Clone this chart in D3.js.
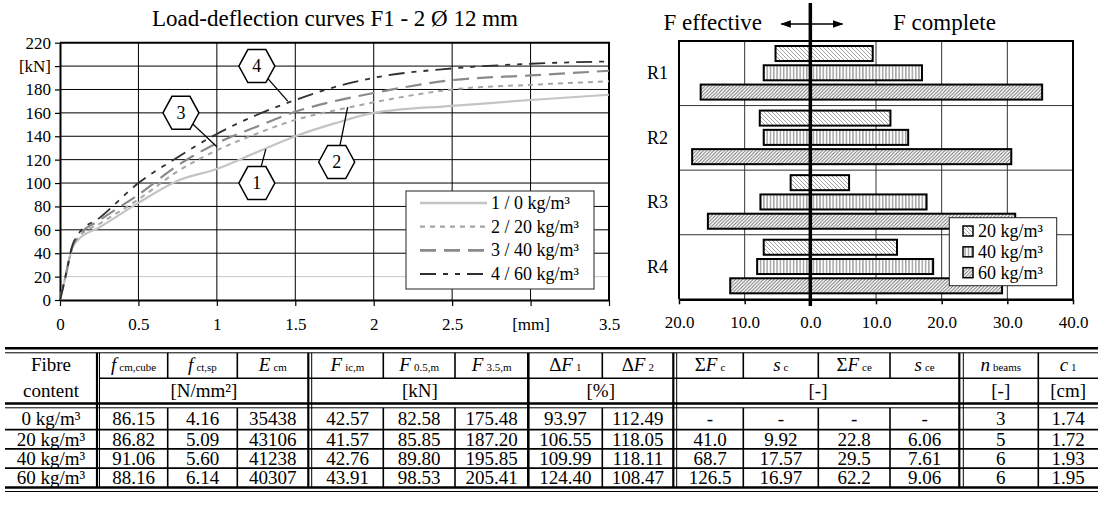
<!DOCTYPE html>
<html>
<head>
<meta charset="utf-8">
<script src="https://cdn.jsdelivr.net/npm/d3@7"></script>
<style>
body { margin: 0; background: #fff; }
svg text { font-family: "Liberation Serif", "Times New Roman", serif; fill: #000; }
</style>
</head>
<body>
<script>
// ---------- load-deflection curves (left chart) ----------
var deflection = [0, 0.03, 0.08, 0.12, 0.25, 0.5, 0.75, 1.0, 1.25, 1.5, 1.75, 2.0, 2.5, 3.0, 3.5];
var load0 = [0, 17, 45, 52, 62, 83, 102, 112, 126, 140, 151, 160, 166, 171, 175.5];
var load20 = [0, 17, 46, 54, 65, 86, 110, 128, 142, 154, 162, 169, 180, 184, 187];
var load40 = [0, 17, 46, 55, 68, 90, 115, 134, 148, 161, 170, 177, 188, 192, 196];
var load60 = [0, 17, 47, 57, 70, 100, 122, 142, 158, 171, 182, 190, 198, 202, 204];
var seriesNames = ["1 / 0 kg/m³", "2 / 20 kg/m³", "3 / 40 kg/m³", "4 / 60 kg/m³"];
var loadTicks = [0, 20, 40, 60, 80, 100, 120, 140, 160, 180, 200, 220];
var deflTicks = [0, 0.5, 1, 1.5, 2, 2.5, 3, 3.5];

// callout hexagons: label, position and the point the leader goes to (data units)
var calloutLabels = ["1", "2", "3", "4"];
var calloutAt = [[1.255, 100], [1.764, 118], [0.771, 160], [1.255, 200]];
var calloutTo = [[1.312, 129], [1.834, 165], [1.0, 131], [1.452, 170]];

// ---------- crack forces (right chart) ----------
var rings = ["R1", "R2", "R3", "R4"];
var doses = ["20 kg/m³", "40 kg/m³", "60 kg/m³"];
var fEffective20 = [5.3, 7.7, 3.0, 7.1];
var fEffective40 = [7.1, 7.1, 7.6, 8.1];
var fEffective60 = [16.7, 18.0, 15.6, 12.2];
var fComplete20 = [9.5, 12.2, 5.9, 13.2];
var fComplete40 = [17.0, 14.9, 17.7, 18.7];
var fComplete60 = [35.3, 30.6, 31.2, 29.2];
var forceTicks = [-20, -10, 0, 10, 20, 30, 40];

// ---------- table ----------
var fibreContent = ["0 kg/m³", "20 kg/m³", "40 kg/m³", "60 kg/m³"];
var fcmCube = ["86.15", "86.82", "91.06", "88.16"];
var fctSp = ["4.16", "5.09", "5.60", "6.14"];
var eCm = ["35438", "43106", "41238", "40307"];
var fIcM = ["42.57", "41.57", "42.76", "43.91"];
var f05M = ["82.58", "85.85", "89.80", "98.53"];
var f35M = ["175.48", "187.20", "195.85", "205.41"];
var deltaF1 = ["93.97", "106.55", "109.99", "124.40"];
var deltaF2 = ["112.49", "118.05", "118.11", "108.47"];
var sumFc = ["-", "41.0", "68.7", "126.5"];
var sC = ["-", "9.92", "17.57", "16.97"];
var sumFce = ["-", "22.8", "29.5", "62.2"];
var sCe = ["-", "6.06", "7.61", "9.06"];
var nBeams = ["3", "5", "6", "6"];
var c1 = ["1.74", "1.72", "1.93", "1.95"];
var headPre = ["", "", "", "", "", "", "Δ", "Δ", "Σ", "", "Σ", "", "", ""];
var headMain = ["f", "f", "E", "F", "F", "F", "F", "F", "F", "s", "F", "s", "n", "c"];
var headSub = ["cm,cube", "ct,sp", "cm", "ic,m", "0.5,m", "3.5,m", "1", "2", "c", "c", "ce", "ce", "beams", "1"];
var unitLabels = ["[N/mm²]", "[kN]", "[%]", "[-]", "[-]", "[cm]"];

var svg = d3.select("body").append("svg")
  .attr("width", 1099)
  .attr("height", 513)
  .attr("font-family", "Liberation Serif");

// =================== left chart ===================
var x = d3.scaleLinear().domain([0, 3.5]).range([60, 609]);
var y = d3.scaleLinear().domain([0, 220]).range([300, 42.7]);

svg.append("text")
  .attr("x", 335).attr("y", 26)
  .attr("text-anchor", "middle")
  .style("font-size", "23px")
  .text("Load-deflection curves F1 - 2 Ø 12 mm");

var left = svg.append("g");

// grid
left.selectAll("line.hgrid")
  .data(loadTicks.slice(1, -1))
  .enter().append("line")
  .attr("x1", x(0)).attr("x2", x(3.5))
  .attr("y1", d => y(d)).attr("y2", d => y(d))
  .attr("stroke", d => d === 20 ? "#c8c8c8" : "#000")
  .attr("stroke-width", 1);
left.selectAll("line.vgrid")
  .data(deflTicks.slice(1, -1))
  .enter().append("line")
  .attr("x1", d => x(d)).attr("x2", d => x(d))
  .attr("y1", y(0)).attr("y2", y(220))
  .attr("stroke", "#000")
  .attr("stroke-width", 1);
// top and right frame
left.append("path")
  .attr("d", "M" + x(0) + "," + y(220) + "H" + x(3.5) + "V" + y(0))
  .attr("fill", "none").attr("stroke", "#000").attr("stroke-width", 2);

// axes
var yAxis = left.append("g")
  .attr("transform", "translate(" + x(0) + ",0)")
  .call(d3.axisLeft(y).tickValues(loadTicks).tickSize(5).tickSizeOuter(0).tickPadding(4)
    .tickFormat(d => d === 200 ? "[kN]" : d));
var xAxis = left.append("g")
  .attr("transform", "translate(0," + y(0) + ")")
  .call(d3.axisBottom(x).tickValues(deflTicks).tickSize(6).tickSizeOuter(0).tickPadding(12)
    .tickFormat(d => d === 3 ? "[mm]" : d));
[yAxis, xAxis].forEach(function(a) {
  a.attr("font-family", "Liberation Serif");
  a.select(".domain").attr("stroke", "#000").attr("stroke-width", 2);
  a.selectAll(".tick line").attr("stroke", "#000").attr("stroke-width", 1.2);
  a.selectAll("text").style("font-size", "17px").attr("fill", "#000");
});

// curves
var loads = [load0, load20, load40, load60];
var colors = ["#c4c4c4", "#a6a6a6", "#8a8a8a", "#303030"];
var widths = [2.2, 2, 2.2, 1.8];
var dashes = [null, "5,5", "16,8", "16,7,5,7,5,7"];

var line = d3.line()
  .x((d, i) => x(deflection[i]))
  .y(d => y(d))
  .curve(d3.curveMonotoneX);

left.selectAll("path.curve")
  .data(loads)
  .enter().append("path")
  .attr("class", "curve")
  .attr("d", d => line(d))
  .attr("fill", "none")
  .attr("stroke", (d, i) => colors[i])
  .attr("stroke-width", (d, i) => widths[i])
  .attr("stroke-dasharray", (d, i) => dashes[i]);

// callouts
var hexPoints = [[-18, 0], [-9, -16.5], [9, -16.5], [18, 0], [9, 16.5], [-9, 16.5]];
var hexPath = d3.line()(hexPoints) + "Z";
var callouts = left.selectAll("g.callout")
  .data(calloutLabels)
  .enter().append("g");
callouts.append("line")
  .attr("x1", (d, i) => x(calloutAt[i][0])).attr("y1", (d, i) => y(calloutAt[i][1]))
  .attr("x2", (d, i) => x(calloutTo[i][0])).attr("y2", (d, i) => y(calloutTo[i][1]))
  .attr("stroke", "#000").attr("stroke-width", 1.3);
callouts.append("path")
  .attr("transform", (d, i) => "translate(" + x(calloutAt[i][0]) + "," + y(calloutAt[i][1]) + ")")
  .attr("d", hexPath)
  .attr("fill", "#fff").attr("stroke", "#000").attr("stroke-width", 1.5);
callouts.append("text")
  .attr("x", (d, i) => x(calloutAt[i][0])).attr("y", (d, i) => y(calloutAt[i][1]) + 6)
  .attr("text-anchor", "middle")
  .style("font-size", "18px")
  .text(d => d);

// legend
var legend = left.append("g");
legend.append("rect")
  .attr("x", 406).attr("y", 191).attr("width", 188).attr("height", 98)
  .attr("fill", "#fff").attr("stroke", "#222").attr("stroke-width", 1);
var legY = d3.scalePoint().domain(seriesNames).range([203, 274]);
legend.selectAll("line.leg")
  .data(seriesNames)
  .enter().append("line")
  .attr("x1", 420).attr("x2", 487)
  .attr("y1", d => legY(d)).attr("y2", d => legY(d))
  .attr("stroke", (d, i) => colors[i])
  .attr("stroke-width", (d, i) => widths[i] + 0.4)
  .attr("stroke-dasharray", (d, i) => dashes[i]);
legend.selectAll("text")
  .data(seriesNames)
  .enter().append("text")
  .attr("x", 491).attr("y", d => legY(d) + 6)
  .style("font-size", "18px")
  .text(d => d);

// =================== right chart ===================
var xr = d3.scaleLinear().domain([-20, 40]).range([679, 1073]);
var yr = d3.scaleBand().domain(rings).range([41, 299.3]);
var yd = d3.scaleBand().domain(doses).range([5, 58.6]).paddingInner(0.22);

var defs = svg.append("defs");
var p20 = defs.append("pattern").attr("id", "p20").attr("patternUnits", "userSpaceOnUse")
  .attr("width", 4).attr("height", 4);
p20.append("rect").attr("width", 4).attr("height", 4).attr("fill", "#fff");
p20.append("path").attr("d", "M-1,-1L5,5M-1,3L1,5M3,-1L5,1").attr("stroke", "#9a9a9a").attr("stroke-width", 0.9);
var p40 = defs.append("pattern").attr("id", "p40").attr("patternUnits", "userSpaceOnUse")
  .attr("width", 3.3).attr("height", 4);
p40.append("rect").attr("width", 3.3).attr("height", 4).attr("fill", "#fff");
p40.append("path").attr("d", "M1.6,0V4").attr("stroke", "#6a6a6a").attr("stroke-width", 0.9);
var p60 = defs.append("pattern").attr("id", "p60").attr("patternUnits", "userSpaceOnUse")
  .attr("width", 3.5).attr("height", 3.5);
p60.append("rect").attr("width", 3.5).attr("height", 3.5).attr("fill", "#fff");
p60.append("path").attr("d", "M-1,4.5L4.5,-1M-1,1L1,-1M2.5,4.5L4.5,2.5").attr("stroke", "#6a6a6a").attr("stroke-width", 0.9);
var patterns = ["url(#p20)", "url(#p40)", "url(#p60)"];

defs.append("marker").attr("id", "arrow")
  .attr("viewBox", "0 0 10 10").attr("refX", 9).attr("refY", 5)
  .attr("markerWidth", 7).attr("markerHeight", 7)
  .attr("orient", "auto-start-reverse")
  .append("path").attr("d", "M0,1.5L10,5L0,8.5Z").attr("fill", "#000");

var right = svg.append("g");

// grid
right.selectAll("line.vg")
  .data(forceTicks.filter(d => d !== 0 && d !== -20 && d !== 40))
  .enter().append("line")
  .attr("x1", d => xr(d)).attr("x2", d => xr(d))
  .attr("y1", yr.range()[0]).attr("y2", yr.range()[1])
  .attr("stroke", "#333").attr("stroke-width", 1);
right.selectAll("line.hg")
  .data(rings.slice(1))
  .enter().append("line")
  .attr("x1", xr(-20)).attr("x2", xr(40))
  .attr("y1", d => yr(d)).attr("y2", d => yr(d))
  .attr("stroke", "#333").attr("stroke-width", 1);
right.append("path")
  .attr("d", "M" + xr(-20) + "," + yr.range()[1] + "V" + yr.range()[0] + "H" + xr(40) + "V" + yr.range()[1])
  .attr("fill", "none").attr("stroke", "#000").attr("stroke-width", 2);

var rAxis = right.append("g")
  .attr("transform", "translate(0," + yr.range()[1] + ")")
  .call(d3.axisBottom(xr).tickValues(forceTicks).tickSize(5).tickSizeOuter(0).tickPadding(12)
    .tickFormat(d => Math.abs(d).toFixed(1)));
rAxis.attr("font-family", "Liberation Serif");
rAxis.select(".domain").attr("stroke", "#000").attr("stroke-width", 2.5);
rAxis.selectAll(".tick line").attr("stroke", "#000").attr("stroke-width", 1.5);
rAxis.selectAll("text").style("font-size", "17px").attr("fill", "#000");

// bars
var effective = [fEffective20, fEffective40, fEffective60];
var complete = [fComplete20, fComplete40, fComplete60];
doses.forEach(function(dose, k) {
  right.selectAll("rect.b" + k)
    .data(rings)
    .enter().append("rect")
    .attr("x", (r, i) => xr(-effective[k][i]))
    .attr("width", (r, i) => xr(complete[k][i]) - xr(-effective[k][i]))
    .attr("y", r => yr(r) + yd(dose))
    .attr("height", yd.bandwidth())
    .attr("fill", patterns[k])
    .attr("stroke", "#000").attr("stroke-width", 2);
});

// ring labels
right.selectAll("text.ring")
  .data(rings)
  .enter().append("text")
  .attr("x", 647).attr("y", r => yr(r) + yr.bandwidth() / 2 + 6)
  .style("font-size", "18px")
  .text(r => r);

// centre line and arrow header
right.append("line")
  .attr("x1", xr(0)).attr("x2", xr(0)).attr("y1", 3).attr("y2", 306)
  .attr("stroke", "#000").attr("stroke-width", 3.5);
right.append("line")
  .attr("x1", xr(0) - 29).attr("x2", xr(0) + 32).attr("y1", 24).attr("y2", 24)
  .attr("stroke", "#000").attr("stroke-width", 1.5)
  .attr("marker-start", "url(#arrow)").attr("marker-end", "url(#arrow)");
right.append("text")
  .attr("x", 762).attr("y", 30).attr("text-anchor", "end")
  .style("font-size", "23px").text("F effective");
right.append("text")
  .attr("x", 893).attr("y", 30)
  .style("font-size", "23px").text("F complete");

// legend
var rleg = right.append("g");
rleg.append("rect")
  .attr("x", 949.3).attr("y", 217.7).attr("width", 107.4).attr("height", 68)
  .attr("fill", "#fff").attr("stroke", "#222").attr("stroke-width", 1);
var rlegY = d3.scalePoint().domain(doses).range([231, 272.7]);
rleg.selectAll("rect.sw")
  .data(doses)
  .enter().append("rect")
  .attr("x", 963).attr("y", d => rlegY(d) - 5)
  .attr("width", 10).attr("height", 10)
  .attr("fill", (d, i) => patterns[i])
  .attr("stroke", "#000").attr("stroke-width", 1.5);
rleg.selectAll("text")
  .data(doses)
  .enter().append("text")
  .attr("x", 978).attr("y", d => rlegY(d) + 6)
  .style("font-size", "18px")
  .text(d => d);

// =================== table ===================
var cols = [[5, 97], [99.5, 167.7], [167.7, 237.3], [237.3, 308.3], [311.7, 383.3], [383.3, 455],
  [455, 528.3], [528.3, 602.3], [602.3, 673.3], [676.7, 743.3], [743.3, 818.3], [818.3, 890],
  [890, 959.3], [963.3, 1038.3], [1038.3, 1098]];
var unitSpans = [[1, 3], [4, 6], [7, 8], [9, 12], [13, 13], [14, 14]];
var tableCols = [fibreContent, fcmCube, fctSp, eCm, fIcM, f05M, f35M, deltaF1, deltaF2, sumFc, sC, sumFce, sCe, nBeams, c1];
var rowLines = [348.3, 378.3, 407.8, 429.6, 448.9, 468.2, 487.5];
var table = svg.append("g");
var cx = c => (cols[c][0] + cols[c][1]) / 2;

// horizontal rules
table.append("line").attr("x1", 5).attr("x2", 1098).attr("y1", 348.3).attr("y2", 348.3).attr("stroke", "#000").attr("stroke-width", 2.5);
table.append("line").attr("x1", 5).attr("x2", 1098).attr("y1", 352.8).attr("y2", 352.8).attr("stroke", "#000").attr("stroke-width", 1);
table.append("line").attr("x1", 99.5).attr("x2", 1098).attr("y1", 378.3).attr("y2", 378.3).attr("stroke", "#000").attr("stroke-width", 1.5);
table.append("line").attr("x1", 5).attr("x2", 1098).attr("y1", 403.5).attr("y2", 403.5).attr("stroke", "#000").attr("stroke-width", 2.5);
table.append("line").attr("x1", 5).attr("x2", 1098).attr("y1", 407.8).attr("y2", 407.8).attr("stroke", "#000").attr("stroke-width", 1);
table.selectAll("line.row")
  .data(rowLines.slice(3, 6))
  .enter().append("line")
  .attr("x1", 5).attr("x2", 1098).attr("y1", d => d).attr("y2", d => d)
  .attr("stroke", "#000").attr("stroke-width", 1.8);
table.append("line").attr("x1", 5).attr("x2", 1098).attr("y1", 487.5).attr("y2", 487.5).attr("stroke", "#000").attr("stroke-width", 2.5);
table.append("line").attr("x1", 5).attr("x2", 1098).attr("y1", 491.5).attr("y2", 491.5).attr("stroke", "#000").attr("stroke-width", 1);

// vertical rules: boundary after column i
var boundaryType = ["double", "single", "single", "double", "single", "single", "thick", "single", "double", "single", "single", "single", "double", "single"];
var fullHeight = [true, false, false, true, false, false, true, false, true, false, false, false, true, true];
boundaryType.forEach(function(t, i) {
  var segs = fullHeight[i] ? [[352.8, 487.5]] : [[352.8, 378.3], [407.8, 487.5]];
  var xs = t === "double" ? [[cols[i][1], 2.2], [cols[i + 1][0], 1]] :
    t === "thick" ? [[cols[i][1], 2.6]] : [[cols[i][1], 1.6]];
  xs.forEach(function(p) {
    segs.forEach(function(s) {
      table.append("line").attr("x1", p[0]).attr("x2", p[0]).attr("y1", s[0]).attr("y2", s[1])
        .attr("stroke", "#000").attr("stroke-width", p[1]);
    });
  });
});

// header text
table.append("text").attr("x", cx(0)).attr("y", 371).attr("text-anchor", "middle").style("font-size", "19px").text("Fibre");
table.append("text").attr("x", cx(0)).attr("y", 397).attr("text-anchor", "middle").style("font-size", "19px").text("content");
headMain.forEach(function(m, i) {
  var t = table.append("text").attr("x", cx(i + 1)).attr("y", 371).attr("text-anchor", "middle").style("font-size", "19px");
  if (headPre[i]) t.append("tspan").text(headPre[i]);
  t.append("tspan").style("font-style", "italic").text(m);
  t.append("tspan").attr("dx", 3).style("font-size", "11px").text(headSub[i]);
});
unitLabels.forEach(function(u, i) {
  var s = unitSpans[i];
  table.append("text")
    .attr("x", (cols[s[0]][0] + cols[s[1]][1]) / 2).attr("y", 397)
    .attr("text-anchor", "middle").style("font-size", "19px").text(u);
});

// data cells
tableCols.forEach(function(col, c) {
  table.selectAll("text.c" + c)
    .data(col)
    .enter().append("text")
    .attr("x", cx(c))
    .attr("y", (d, r) => (rowLines[r + 2] + rowLines[r + 3]) / 2 + 6.5)
    .attr("text-anchor", "middle")
    .style("font-size", "19px")
    .text(d => d);
});
</script>
</body>
</html>
